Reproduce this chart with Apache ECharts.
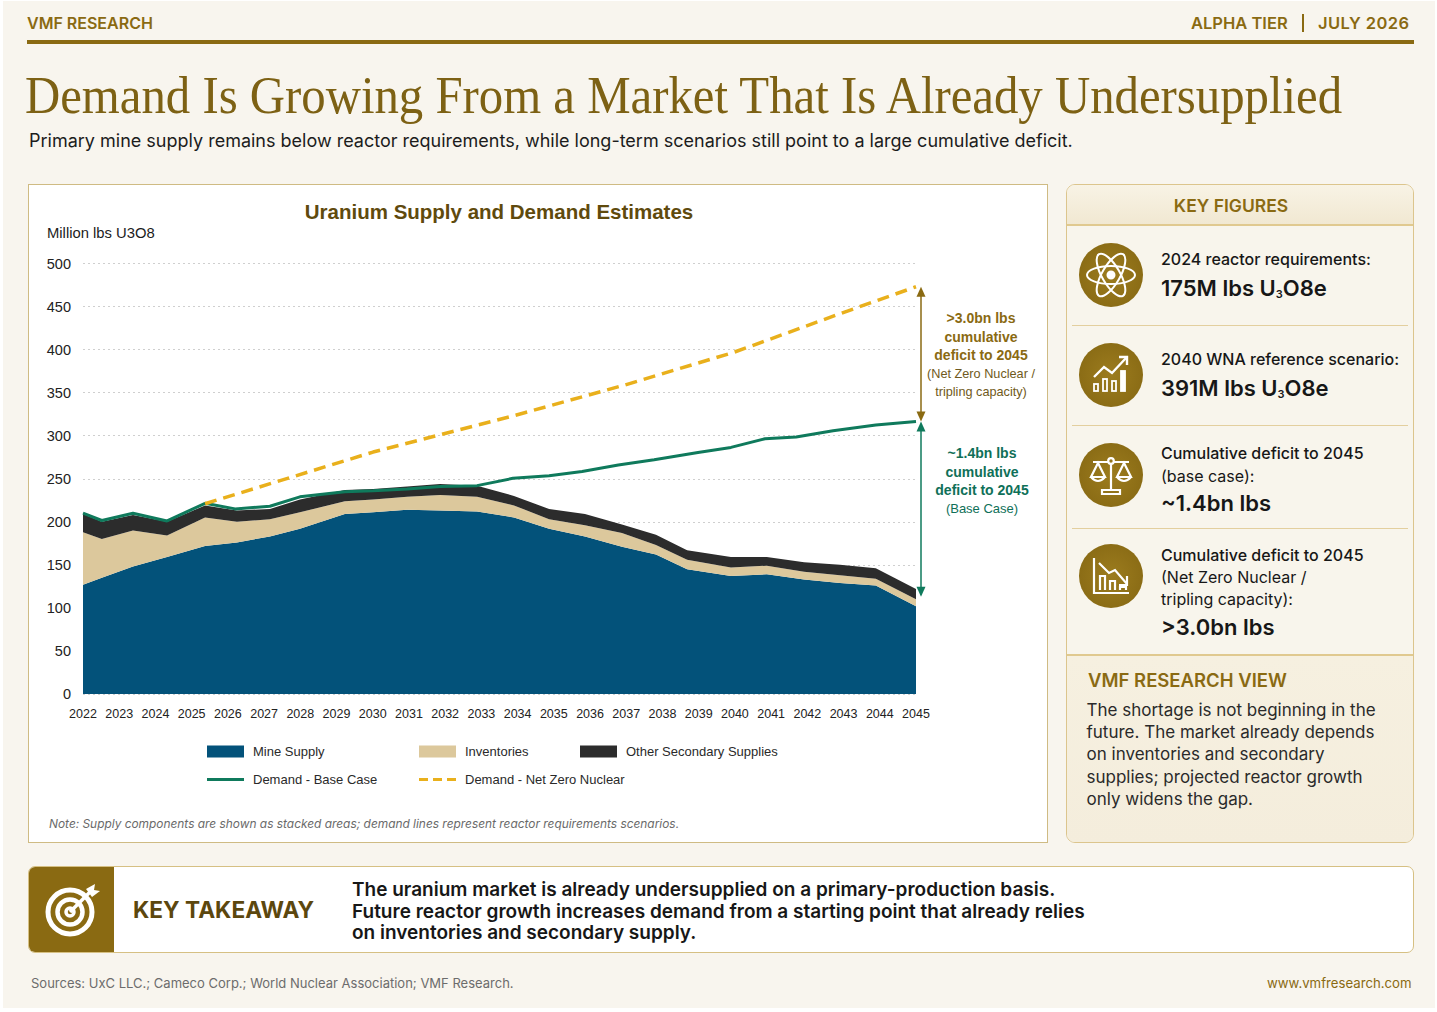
<!DOCTYPE html>
<html><head><meta charset="utf-8">
<script src="https://cdn.jsdelivr.net/npm/echarts@6/dist/echarts.min.js"></script>
<style>
html,body{margin:0;padding:0;background:#fff}
#page{position:absolute;left:3px;top:1px;width:1432px;height:1007px;background:#f8f5ee}
.a{position:absolute;white-space:nowrap;font-family:Inter,"Noto Sans",sans-serif}
.gold{color:#8a6a12}
.ann{position:absolute;width:130px;text-align:center;font-family:"Liberation Sans",sans-serif;white-space:nowrap}
.ann b{display:block;font-size:14px;line-height:18.5px}
.ann span{display:block;font-size:12.7px;line-height:18px}
.circle{position:absolute;left:1079px;width:64px;height:64px;border-radius:50%;background:radial-gradient(circle at 50% 50%,#9c7c1e,#846612)}
.circle svg{position:absolute;left:0;top:0}
.l{font-size:16px;font-weight:500;color:#171717;left:1161px}
.b{font-size:22px;font-weight:600;color:#171717;left:1161px}
sub{font-size:50%;line-height:0;vertical-align:-0.2em}
.div{position:absolute;left:1072px;width:336px;height:1px;background:#e3cf9e}
</style></head><body>
<div id="page"></div>
<div class="a gold" style="left:27px;top:13px;font-size:16px;font-weight:600">VMF RESEARCH</div>
<div class="a gold" style="left:1191px;top:13px;font-size:16.5px;font-weight:600">ALPHA TIER</div>
<div style="position:absolute;left:1302px;top:14px;width:2px;height:18px;background:#8a6a12"></div>
<div class="a gold" style="left:1318px;top:13px;font-size:16.5px;font-weight:600;letter-spacing:.4px">JULY 2026</div>
<div style="position:absolute;left:27px;top:40px;width:1387px;height:4px;background:#8a6a12"></div>
<div class="a" id="ttl" style="left:25px;top:66px;font-family:'Liberation Serif',serif;font-size:52px;color:#7d6114;transform:scaleX(.938);transform-origin:0 0">Demand Is Growing From a Market That Is Already Undersupplied</div>
<div class="a" style="left:29px;top:130px;font-size:18px;color:#1c1c1c">Primary mine supply remains below reactor requirements, while long-term scenarios still point to a large cumulative deficit.</div>

<div style="position:absolute;left:28px;top:184px;width:1020px;height:659px;background:#fff;border:1px solid #cfbb83;box-sizing:border-box"></div>
<div id="chart" style="position:absolute;left:29px;top:185px;width:1018px;height:657px"></div>
<div class="ann" style="left:916px;top:309px;color:#8a6a12"><b>&gt;3.0bn lbs</b><b>cumulative</b><b>deficit to 2045</b><span style="color:#6f5a20">(Net Zero Nuclear /</span><span style="color:#6f5a20">tripling capacity)</span></div>
<div class="ann" style="left:917px;top:444px;color:#0f7058"><b>~1.4bn lbs</b><b>cumulative</b><b>deficit to 2045</b><span style="font-size:13px">(Base Case)</span></div>

<div style="position:absolute;left:1066px;top:184px;width:348px;height:659px;box-sizing:border-box;border:1px solid #dcc58d;border-radius:9px;background:#f8f5ec;overflow:hidden">
  <div style="height:39px;background:linear-gradient(#f8f3e5,#f1e8d2);border-bottom:2px solid #e0c98f"></div>
  <div style="position:absolute;left:0;top:469px;width:348px;height:190px;border-top:2px solid #e0c98f;box-sizing:border-box;background:linear-gradient(#f6f0e0,#f4eddc)"></div>
</div>
<div class="a gold" style="left:1066px;width:330px;text-align:center;top:195px;font-size:17.5px;font-weight:600">KEY FIGURES</div>

<div class="circle" style="top:243px"><svg width="64" height="64" viewBox="0 0 64 64" fill="none" stroke="#fff" stroke-width="2"><ellipse cx="32" cy="32" rx="24" ry="9"/><ellipse cx="32" cy="32" rx="24" ry="9" transform="rotate(60 32 32)"/><ellipse cx="32" cy="32" rx="24" ry="9" transform="rotate(120 32 32)"/><circle cx="32" cy="32" r="3.5" fill="#fff"/></svg></div>
<div class="a l" style="top:249px">2024 reactor requirements:</div>
<div class="a b" style="top:275px">175M lbs U<sub>3</sub>O8e</div>
<div class="div" style="top:325px"></div>

<div class="circle" style="top:343px"><svg width="64" height="64" viewBox="0 0 64 64" fill="none" stroke="#fff" stroke-width="2.4"><path d="M15 34 L25 24 L33 30 L47 15"/><path d="M40 14 L48 14 L48 22"/><rect x="15" y="41" width="4" height="7" stroke-width="1.8"/><rect x="24" y="36" width="4" height="12" stroke-width="1.8"/><rect x="33" y="38" width="4" height="10" stroke-width="1.8"/><rect x="42" y="28" width="4" height="20" fill="#fff" stroke-width="1.8"/></svg></div>
<div class="a l" style="top:349px">2040 WNA reference scenario:</div>
<div class="a b" style="top:375px">391M lbs U<sub>3</sub>O8e</div>
<div class="div" style="top:425px"></div>

<div class="circle" style="top:443px"><svg width="64" height="64" viewBox="0 0 64 64" fill="none" stroke="#fff" stroke-width="2.2"><circle cx="32" cy="18" r="2.8"/><path d="M32 21 V48 M14 19 H29 M35 19 H50 M23 51 H41 V47 H23 Z"/><path d="M19 20 L12 34 H26 Z M45 20 L38 34 H52 Z"/><path d="M12 34 Q19 42 26 34 M38 34 Q45 42 52 34"/></svg></div>
<div class="a l" style="top:443px">Cumulative deficit to 2045</div>
<div class="a l" style="top:466px;font-weight:400">(base case):</div>
<div class="a b" style="top:490px">~1.4bn lbs</div>
<div class="div" style="top:528px"></div>

<div class="circle" style="top:544px"><svg width="64" height="64" viewBox="0 0 64 64" fill="none" stroke="#fff" stroke-width="2.2"><path d="M15 14 V49 H50"/><path d="M20 19 L30 29 L36 26 L48 40"/><path d="M48 32 V41 H40"/><path d="M21 46 V32 H26 V46 M31 46 V37 H36 V46 M41 46 V43 H47 V46"/></svg></div>
<div class="a l" style="top:545px">Cumulative deficit to 2045</div>
<div class="a l" style="top:567px;font-weight:400">(Net Zero Nuclear /</div>
<div class="a l" style="top:589px;font-weight:400">tripling capacity):</div>
<div class="a b" style="top:614px">&gt;3.0bn lbs</div>

<div class="a gold" style="left:1088px;top:669px;font-size:18.5px;font-weight:600">VMF RESEARCH VIEW</div>
<div class="a" style="left:1086.5px;top:699px;font-size:17px;line-height:22.2px;color:#2a2a2a">The shortage is not beginning in the<br>future. The market already depends<br>on inventories and secondary<br>supplies; projected reactor growth<br>only widens the gap.</div>

<div style="position:absolute;left:28px;top:866px;width:1386px;height:87px;box-sizing:border-box;background:#fff;border:1px solid #d6c083;border-radius:7px;overflow:hidden"><div style="width:85px;height:87px;background:#8a6a12"></div></div>
<svg style="position:absolute;left:40px;top:880px" width="62" height="62" viewBox="0 0 62 62" fill="none" stroke="#fff"><circle cx="30" cy="32" r="22" stroke-width="5"/><circle cx="30" cy="32" r="12.5" stroke-width="4.5"/><circle cx="30" cy="32" r="4" stroke-width="3.5"/><path d="M30 32 L50 12" stroke-width="3.5"/><path d="M46 9 L55 4 L54 10 L60 11 L52 17 Z" fill="#fff" stroke="none"/></svg>
<div class="a" style="left:133px;top:896px;font-size:22.7px;font-weight:700;color:#5c470e">KEY TAKEAWAY</div>
<div class="a" style="left:352px;top:879px;font-size:19px;line-height:21.7px;font-weight:600;color:#171717">The uranium market is already undersupplied on a primary-production basis.<br>Future reactor growth increases demand from a starting point that already relies<br>on inventories and secondary supply.</div>
<div class="a" style="left:31px;top:975px;font-size:13px;color:#6c6c6c">Sources: UxC LLC.; Cameco Corp.; World Nuclear Association; VMF Research.</div>
<div class="a gold" style="left:1267px;top:975px;font-size:13.2px">www.vmfresearch.com</div>

<script>
const supplyYears = [2022,2022.52,2023.38,2024.32,2025.37,2026.25,2027.16,2027.99,2029.23,2030.01,2030.95,2031.86,2032.88,2033.9,2034.87,2035.86,2036.88,2037.82,2038.68,2039.89,2040.88,2041.91,2042.9,2043.89,2045];
const mineSupply = [127,135,148,159,172,176,183,192,209,211,214,213,212,205,192,183,171,162,145,137,139,133,129,126,102];
const inventories = [61,45,42,25,33,24,20,19,15,15,15,18,17,14,11,13,16,11,11,10,10,9,9,8,8];
const otherSecondary = [21,20,18,16,14,13,12,15,13,12,12,13,13,11,12,13,10,12,11,12,10,11,12,12,12];
const baseYears = [2022,2022.52,2023.38,2024.32,2025.37,2026.2,2027.16,2027.99,2029.23,2030.01,2030.95,2031.86,2032.88,2033.87,2034.87,2035.78,2036.78,2037.77,2038.98,2039.89,2040.83,2041.69,2042.71,2043.89,2045];
const demandBase = [210,201.5,210,201,221.5,215,218,229,235,236,238,241,242,250.5,253.5,258.5,266,272,280.6,286.4,296.5,298.5,305.8,312.4,316.6];
const netZeroYears = [2025.37,2030.01,2033.79,2036.97,2039.98,2042.99,2045];
const demandNetZero = [221,281,322,359,397,443,473];
const gapNetZero = [316.6,473];
const gapBase = [113,316.6];
const yTicks = {min:0,max:500,interval:50};
const xTicks = {min:2022,max:2045,interval:1};

const sans = '"Liberation Sans",Arial,sans-serif';
const zip = (a,b)=>a.map((x,i)=>[x,b[i]]);
const chart = echarts.init(document.getElementById('chart'),null,{renderer:'svg'});
function arrowItem(color){
  return function(params,api){
    const p0 = api.coord([api.value(0),api.value(1)]);
    const p1 = api.coord([api.value(0),api.value(2)]);
    const x = p0[0]+5;
    return {type:'group',silent:true,children:[
      {type:'line',shape:{x1:x,y1:p0[1]-4,x2:x,y2:p1[1]+4},style:{stroke:color,lineWidth:1.5}},
      {type:'polygon',shape:{points:[[x,p1[1]],[x-4.5,p1[1]+10],[x+4.5,p1[1]+10]]},style:{fill:color}},
      {type:'polygon',shape:{points:[[x,p0[1]],[x-4.5,p0[1]-10],[x+4.5,p0[1]-10]]},style:{fill:color}}
    ]};
  };
}
// value comes first so that ECharts stacks the y dimension on a numeric x axis
const area = (name,vals,color)=>({name,type:'line',stack:'supply',stackStrategy:'all',data:zip(vals,supplyYears),encode:{x:1,y:0},symbol:'none',
  lineStyle:{width:0,color},itemStyle:{color},areaStyle:{color,opacity:1},z:2,emphasis:{disabled:true}});
const legendText = {fontFamily:sans,fontSize:13,color:'#2a2a2a',padding:[0,0,0,4]};
const dashIcon = 'path://M0 0h9v3H0z M14 0h9v3h-9z M28 0h9v3h-9z';
const lg = (name,left,top,icon,h)=>({left,top,itemWidth:37,itemHeight:h,textStyle:legendText,selectedMode:false,data:[{name,icon}]});
chart.setOption({
  animation:false,
  textStyle:{fontFamily:sans},
  title:[
    {text:'Uranium Supply and Demand Estimates',left:465,top:11,textAlign:'center',textStyle:{fontFamily:sans,fontSize:20.5,fontWeight:700,color:'#5f4a0d'}},
    {text:'Million lbs U3O8',left:13,top:35,textStyle:{fontFamily:sans,fontSize:14.8,fontWeight:400,color:'#1c1c1c'}},
    {text:'Note: Supply components are shown as stacked areas; demand lines represent reactor requirements scenarios.',left:15,top:627,textStyle:{fontFamily:'Inter',fontSize:11.9,fontWeight:400,fontStyle:'italic',color:'#6a6a6a'}}
  ],
  grid:{left:54,top:78.5,width:833,height:430.5},
  xAxis:{type:'value',min:xTicks.min,max:xTicks.max,interval:xTicks.interval,splitLine:{show:false},axisTick:{show:false},
    axisLine:{show:false},axisLabel:{margin:13,fontFamily:sans,fontSize:12.5,color:'#222',formatter:v=>String(v)}},
  yAxis:{type:'value',min:yTicks.min,max:yTicks.max,interval:yTicks.interval,axisLine:{show:false},axisTick:{show:false},
    axisLabel:{margin:12,fontFamily:sans,fontSize:14.5,color:'#222'},
    splitLine:{lineStyle:{type:[2,3],color:'#cfcfcf',width:1}}},
  legend:[
    lg('Mine Supply',173,555,'rect',12),
    lg('Demand - Base Case',173,583,'rect',3),
    lg('Inventories',385,555,'rect',12),
    lg('Demand - Net Zero Nuclear',385,583,dashIcon,3),
    lg('Other Secondary Supplies',546,555,'rect',12)
  ],
  series:[
    area('Mine Supply',mineSupply,'#03527a'),
    area('Inventories',inventories,'#dcc89c'),
    area('Other Secondary Supplies',otherSecondary,'#2c2c2c'),
    {name:'Demand - Base Case',type:'line',data:zip(baseYears,demandBase),symbol:'none',z:4,
     lineStyle:{color:'#0f7a5c',width:3},itemStyle:{color:'#0f7a5c'}},
    {name:'Demand - Net Zero Nuclear',type:'line',data:zip(netZeroYears,demandNetZero),symbol:'none',z:5,
     lineStyle:{color:'#e9b01c',width:3.5,type:[12,7]},itemStyle:{color:'#e9b01c'}},
    {type:'custom',data:[[xTicks.max,gapNetZero[0],gapNetZero[1]]],renderItem:arrowItem('#8a6a12'),encode:{x:0,y:[1,2]},z:6,silent:true,clip:false},
    {type:'custom',data:[[xTicks.max,gapBase[0],gapBase[1]]],renderItem:arrowItem('#0f7a5c'),encode:{x:0,y:[1,2]},z:6,silent:true,clip:false}
  ]
});
</script>
</body></html>
